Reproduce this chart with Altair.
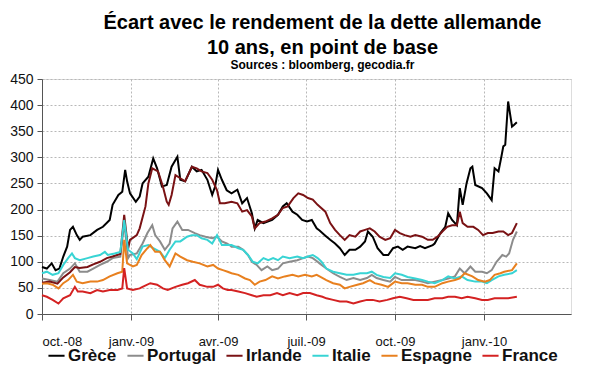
import altair as alt
import pandas as pd

base_date = "2008-10-01"
countries = ["Grèce", "Portugal", "Irlande", "Italie", "Espagne", "France"]
colors = ["#000000", "#8c8c8c", "#7a1214", "#38d4d4", "#e8801f", "#d42222"]

# days since 2008-10-01 / spread in basis points
grece_days = [0,5,10,14,18,22,26,29,32,36,39,42,50,57,63,70,73,79,83,86,88,91,97,101,104,110,115,119,124,129,134,140,143,148,155,160,165,171,176,179,182,186,191,196,202,207,212,217,220,223,229,238,244,249,253,259,264,269,274,279,284,287,293,298,303,308,313,318,324,329,334,337,342,347,353,358,363,368,373,378,386,391,396,404,406,412,417,420,424,429,432,435,439,443,445,448,455,460,465,468,472,475,477,479,482,486,488,491]
grece_vals = [90,87,97,84,87,110,129,161,167,151,142,148,151,161,167,180,209,228,234,276,254,231,215,225,250,263,298,279,244,247,282,301,257,254,282,273,276,257,228,244,276,257,237,231,238,212,222,193,164,180,174,180,190,206,212,196,190,180,177,180,164,160,150,142,135,126,113,123,123,129,139,158,148,126,113,113,126,129,123,129,126,130,126,132,135,155,167,193,180,170,241,209,250,279,282,247,241,231,218,279,273,301,321,324,407,359,362,367]

irlande_days = [0,8,16,22,29,34,39,47,53,60,67,73,81,85,89,91,98,101,107,110,114,117,120,125,129,131,134,138,143,148,155,160,165,171,176,181,184,189,196,202,207,212,217,220,225,231,238,244,249,254,260,265,270,275,280,285,287,293,298,303,308,313,318,324,329,334,339,344,349,355,360,365,370,375,381,386,393,399,404,409,414,419,424,429,432,435,440,446,451,456,461,466,472,477,482,486,491]
irlande_vals = [60,62,58,70,80,90,88,90,95,100,107,110,115,190,125,142,151,164,206,250,279,276,273,244,215,209,228,266,260,254,282,279,273,270,257,237,212,212,215,212,196,199,187,164,174,177,183,190,203,206,222,231,228,222,219,209,206,196,174,161,151,142,151,148,158,161,164,158,148,142,145,161,155,151,148,151,148,142,142,148,158,167,170,170,196,174,167,167,161,151,155,155,158,158,151,155,174]

portugal_days = [0,8,16,22,29,34,39,47,53,60,67,73,81,85,89,91,98,104,109,114,117,122,127,132,135,140,145,151,158,163,169,176,181,186,191,194,196,203,208,213,217,222,227,233,238,244,249,256,264,270,275,280,285,287,294,301,308,315,322,329,336,341,346,353,360,365,372,378,386,393,399,406,414,420,427,432,437,443,448,455,460,465,470,476,480,483,487,491]
portugal_vals = [68,65,62,78,87,97,81,81,87,94,100,107,110,175,107,113,116,135,155,170,151,139,123,135,164,177,161,161,155,151,148,145,148,139,135,132,129,129,123,113,100,94,84,91,84,87,97,100,103,107,110,107,100,97,87,78,71,65,69,65,69,75,69,65,62,71,65,65,65,62,59,62,65,68,72,87,78,91,81,81,78,84,100,113,110,116,142,158]

italie_days = [0,5,11,17,22,27,31,34,39,47,53,60,65,68,75,81,85,89,94,98,104,110,115,122,127,132,138,143,150,155,160,165,171,176,181,186,191,196,203,208,213,218,223,229,234,239,244,249,256,264,270,275,280,285,289,294,301,308,315,322,329,336,341,346,353,360,365,372,378,386,393,399,406,414,420,427,434,440,448,455,460,465,472,478,486,491]
italie_vals = [78,81,75,78,94,107,116,107,103,107,110,113,119,113,116,119,180,123,116,105,129,132,126,119,107,123,139,139,148,151,151,145,142,135,151,132,132,132,126,123,113,100,97,107,103,107,103,110,107,110,107,110,113,107,100,87,81,78,75,75,78,78,81,75,71,69,78,75,71,68,65,62,59,65,72,68,72,65,62,62,59,65,72,75,78,84]

espagne_days = [0,5,11,17,22,27,32,36,42,50,57,63,70,78,83,85,88,94,98,103,109,112,117,122,127,132,138,143,150,156,163,171,177,182,187,192,196,203,210,215,220,225,231,238,244,251,259,265,272,279,284,287,294,301,308,313,318,326,332,339,344,351,358,365,372,378,386,393,399,406,414,420,427,432,437,445,451,458,463,468,474,478,486,491]
espagne_vals = [58,59,56,49,59,65,75,62,59,62,62,65,72,78,81,142,97,91,94,113,126,132,119,119,103,91,116,110,103,100,97,91,94,87,84,81,78,75,68,65,56,62,65,72,68,72,75,72,75,72,75,72,65,59,56,49,52,56,59,65,59,56,52,62,59,59,56,56,52,52,59,62,65,68,78,72,65,62,65,75,78,81,84,97]

france_days = [0,5,11,17,22,29,34,37,42,50,57,63,70,78,83,85,88,94,101,104,112,119,125,130,138,145,151,158,163,171,177,182,187,192,196,203,210,217,222,229,236,243,249,256,264,270,277,284,290,294,301,308,315,322,329,336,342,349,357,363,370,377,384,391,399,406,414,420,427,434,440,448,455,461,468,476,482,491]
france_vals = [36,33,27,20,30,36,52,43,43,40,46,43,46,46,49,88,49,46,49,52,59,56,49,46,52,56,59,65,56,52,52,56,49,46,46,43,40,36,33,36,36,40,36,40,36,40,40,36,33,30,27,24,24,20,24,27,27,24,27,30,33,30,27,27,27,30,30,33,33,30,33,30,27,27,30,30,30,33]

series = [
    ("Grèce", grece_days, grece_vals),
    ("Portugal", portugal_days, portugal_vals),
    ("Irlande", irlande_days, irlande_vals),
    ("Italie", italie_days, italie_vals),
    ("Espagne", espagne_days, espagne_vals),
    ("France", france_days, france_vals),
]

rows = []
start = pd.Timestamp(base_date)
for name, days, vals in series:
    assert len(days) == len(vals), (name, len(days), len(vals))
    for d, v in zip(days, vals):
        rows.append({"pays": name, "date": start + pd.Timedelta(days=d), "valeur": v})
df = pd.DataFrame(rows)

tick_dates = [
    alt.DateTime(year=2008, month=10, date=1),
    alt.DateTime(year=2009, month=1, date=1),
    alt.DateTime(year=2009, month=4, date=1),
    alt.DateTime(year=2009, month=7, date=1),
    alt.DateTime(year=2009, month=10, date=1),
    alt.DateTime(year=2010, month=1, date=1),
]

label_expr = (
    "(month(datum.value)==0 ? 'janv.' : month(datum.value)==3 ? 'avr.' : "
    "month(datum.value)==6 ? 'juil.' : 'oct.') + '-' + timeFormat(datum.value, '%y')"
)

FONT = "Liberation Sans"

chart = alt.Chart(df).mark_line(strokeWidth=2).encode(
    x=alt.X(
        "date:T",
        scale=alt.Scale(domain=[alt.DateTime(year=2008, month=10, date=1),
                                alt.DateTime(year=2010, month=4, date=1)]),
        axis=alt.Axis(values=tick_dates, labelExpr=label_expr, title=None,
                      grid=True, gridDash=[2, 2], gridColor="#b8b8b8",
                      tickSize=6, tickColor="#555", domainColor="#555",
                      labelPadding=15, labelFontSize=13, labelFont=FONT,
                      labelColor="#111", labelOverlap=False),
    ),
    y=alt.Y(
        "valeur:Q",
        scale=alt.Scale(domain=[0, 450], nice=False),
        axis=alt.Axis(values=list(range(0, 451, 50)), title=None,
                      grid=True, gridDash=[2, 2], gridColor="#b8b8b8",
                      tickSize=5, tickColor="#555", domainColor="#555",
                      labelPadding=4, labelFontSize=14, labelFont=FONT,
                      labelColor="#111"),
    ),
    color=alt.Color(
        "pays:N",
        scale=alt.Scale(domain=countries, range=colors),
        sort=countries,
        legend=alt.Legend(
            title=None, orient="none", direction="horizontal",
            legendX=5, legendY=267,
            symbolType="stroke", symbolStrokeWidth=2, symbolSize=260,
            labelFontSize=17, labelFontWeight="bold", labelFont=FONT,
            labelColor="#111", columnPadding=6, labelOffset=2,
        ),
    ),
).properties(
    width=529,
    height=235,
    padding={"left": 34, "top": 71, "right": 21, "bottom": 56},
    autosize=alt.AutoSizeParams(type="none"),
    title=alt.TitleParams(
        text=["Écart avec le rendement de la dette allemande", "10 ans, en point de base"],
        subtitle="Sources : bloomberg, gecodia.fr",
        anchor="middle", dx=16, offset=1,
        font=FONT, fontSize=20, fontWeight="bold", lineHeight=25, color="#000",
        subtitleFont=FONT, subtitleFontSize=12, subtitleFontWeight="bold",
        subtitleColor="#000", subtitlePadding=2,
    ),
).configure_view(stroke=None).configure(background="white")

chart.save("out.html", embed_options={"renderer": "svg", "actions": False})
